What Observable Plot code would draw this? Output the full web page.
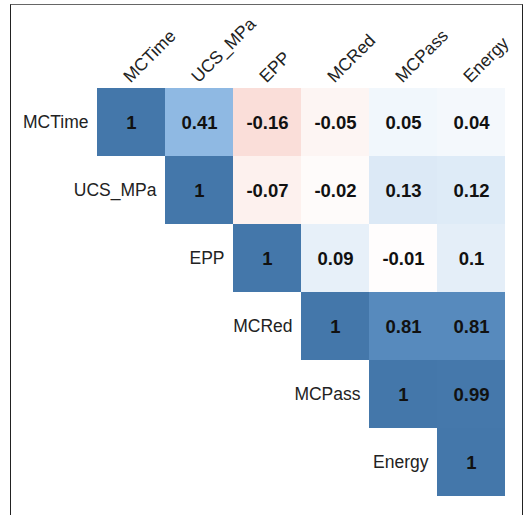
<!DOCTYPE html>
<html><head><meta charset="utf-8">
<script src="https://cdn.jsdelivr.net/npm/d3@7"></script>
<script src="https://cdn.jsdelivr.net/npm/@observablehq/plot@0.6"></script>
<style>
body{margin:0;background:#fff;}
#wrap{position:relative;width:528px;height:515px;overflow:hidden;background:#fff;}
#chart{position:absolute;left:0;top:0;}
#frame{position:absolute;left:10px;top:4px;width:511px;height:600px;border:1.5px solid #222;border-top-color:#666;pointer-events:none;}
</style></head><body>
<div id="wrap"><div id="chart"></div><div id="frame"></div></div>
<script>
const variables = ["MCTime", "UCS_MPa", "EPP", "MCRed", "MCPass", "Energy"];
// upper triangle (incl. diagonal), one array per row
const rowMCTime  = [1, 0.41, -0.16, -0.05, 0.05, 0.04];
const rowUCS_MPa = [1, -0.07, -0.02, 0.13, 0.12];
const rowEPP     = [1, 0.09, -0.01, 0.1];
const rowMCRed   = [1, 0.81, 0.81];
const rowMCPass  = [1, 0.99];
const rowEnergy  = [1];
const colorStops = [-1, -0.5, 0, 0.5, 1];
const colorRange = ["#BB4444", "#EE9988", "#FFFFFF", "#77AADD", "#4477AA"];

const rows = [rowMCTime, rowUCS_MPa, rowEPP, rowMCRed, rowMCPass, rowEnergy];
const cells = [];
rows.forEach((vals, i) => vals.forEach((v, k) => {
  cells.push({row: variables[i], col: variables[i + k], value: v});
}));

const plot = Plot.plot({
  width: 528, height: 515,
  marginLeft: 97, marginRight: 23, marginTop: 86, marginBottom: 18,
  x: {domain: variables, axis: null, padding: 0},
  y: {domain: variables, axis: null, padding: 0},
  color: {type: "linear", domain: colorStops, range: colorRange, interpolate: "rgb"},
  style: {fontFamily: "'Liberation Sans', Arial, sans-serif", fontSize: "17.5px", background: "transparent"},
  marks: [
    Plot.cell(cells, {x: "col", y: "row", fill: "value", inset: 0}),
    Plot.text(cells, {x: "col", y: "row", text: d => String(d.value), fontWeight: "bold", fill: "#111", fontSize: 18.5, dy: 1}),
    Plot.text(variables, {x: d => d, frameAnchor: "top", rotate: -45, textAnchor: "start", lineAnchor: "bottom", dy: -3, dx: -1, fill: "#222", fontSize: 17.5}),
    Plot.text(variables, {x: d => d, y: d => d, textAnchor: "end", dx: -43, fill: "#222", fontSize: 17.5})
  ]
});
document.getElementById("chart").appendChild(plot);
</script>
</body></html>
